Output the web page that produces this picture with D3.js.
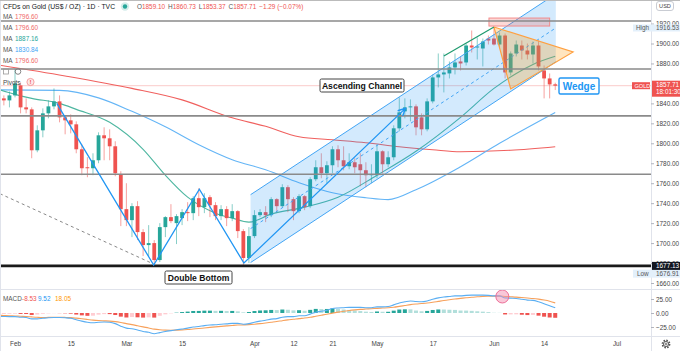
<!DOCTYPE html>
<html>
<head>
<meta charset="utf-8">
<script src="https://cdn.jsdelivr.net/npm/d3@7"></script>
<style>
  html, body { margin: 0; padding: 0; background: #fff; }
  svg { display: block; font-family: "Liberation Sans", Arial, sans-serif; }
</style>
</head>
<body>
<svg id="chart" width="680" height="351"></svg>
<script>
// daily bars from Jan 27 2021 (index -3) to Jun 16 2021 (index 97), [open, high, low, close]
const firstIndex = -3;
const candles = [
  [1851, 1856, 1836, 1844], [1845, 1848, 1838, 1843], [1843, 1852, 1836, 1848],
  [1848, 1875, 1846, 1860], [1858, 1861, 1830, 1836], [1836, 1845, 1830, 1834],
  [1834, 1836, 1785, 1793], [1793, 1818, 1791, 1813], [1813, 1835, 1806, 1830],
  [1830, 1843, 1825, 1837], [1837, 1855, 1834, 1842], [1842, 1848, 1821, 1826],
  [1826, 1828, 1809, 1823], [1823, 1829, 1810, 1819], [1819, 1822, 1790, 1794],
  [1794, 1799, 1768, 1775], [1776, 1786, 1766, 1775], [1775, 1790, 1768, 1783],
  [1783, 1811, 1780, 1808], [1808, 1816, 1783, 1805], [1805, 1814, 1783, 1797],
  [1797, 1802, 1767, 1770], [1769, 1772, 1717, 1734], [1734, 1760, 1717, 1723],
  [1723, 1740, 1706, 1737], [1737, 1742, 1703, 1711], [1711, 1714, 1687, 1698],
  [1698, 1718, 1687, 1700], [1700, 1703, 1676.91, 1683], [1683, 1720, 1681, 1716],
  [1716, 1727, 1706, 1726], [1726, 1739, 1720, 1722], [1720, 1729, 1699, 1727],
  [1725, 1734, 1718, 1731], [1731, 1741, 1722, 1730], [1730, 1747, 1723, 1745],
  [1745, 1755, 1727, 1736], [1736, 1750, 1730, 1745], [1746, 1748, 1726, 1738],
  [1738, 1741, 1723, 1727], [1727, 1738, 1723, 1734], [1734, 1737, 1717, 1725],
  [1725, 1739, 1722, 1732], [1732, 1733, 1705, 1712], [1712, 1714, 1678, 1685],
  [1685, 1716, 1680, 1707], [1707, 1733, 1705, 1728], [1728, 1734, 1726, 1731],
  [1731, 1737, 1721, 1728], [1728, 1746, 1726, 1744], [1744, 1745, 1731, 1737],
  [1737, 1759, 1736, 1756], [1756, 1758, 1731, 1744], [1744, 1746, 1723, 1732],
  [1732, 1749, 1730, 1747], [1747, 1748, 1733, 1736], [1737, 1766, 1735, 1764],
  [1764, 1783, 1762, 1776], [1776, 1790, 1765, 1770], [1770, 1782, 1760, 1778],
  [1778, 1797, 1770, 1794], [1794, 1798, 1776, 1783], [1783, 1797, 1773, 1777],
  [1777, 1790, 1774, 1781], [1781, 1785, 1770, 1776], [1779, 1790, 1757, 1773],
  [1773, 1781, 1756, 1768], [1768, 1779, 1760, 1769], [1768, 1799, 1765, 1792],
  [1792, 1793, 1770, 1779], [1779, 1792, 1776, 1786], [1786, 1818, 1783, 1815],
  [1815, 1846, 1812, 1831], [1832, 1845, 1825, 1836], [1836, 1844, 1822, 1837],
  [1837, 1839, 1808, 1816], [1826, 1830, 1808, 1814], [1814, 1845, 1812, 1842],
  [1842, 1869, 1840, 1866], [1866, 1890, 1856, 1869], [1869, 1890, 1851, 1871],
  [1870, 1882, 1865, 1876], [1876, 1890, 1869, 1881], [1882, 1887, 1873, 1880],
  [1881, 1900, 1878, 1898], [1898, 1913, 1891, 1896], [1896, 1906, 1884, 1897],
  [1895, 1905, 1877, 1902], [1905, 1908, 1899, 1903], [1905, 1916.53, 1898, 1899],
  [1899, 1911, 1896, 1908], [1908, 1910, 1865, 1871], [1871, 1892, 1868, 1890],
  [1890, 1903, 1887, 1899], [1898, 1903, 1884, 1893], [1893, 1900, 1884, 1889],
  [1889, 1902, 1880, 1898], [1898, 1903, 1873, 1877], [1873, 1878, 1845, 1865],
  [1865, 1870, 1845, 1859], [1859.10, 1860.73, 1853.37, 1857.71]
];

// moving averages, [bar index, price]
const maFast = [[-3, 1854], [0, 1849], [3, 1845], [8, 1840], [11, 1834], [17, 1821], [23, 1794],
  [27, 1768], [31, 1746], [36, 1730], [39, 1725], [42, 1721], [46, 1729], [52, 1736], [58, 1746],
  [65, 1768], [72, 1792], [80, 1826], [86, 1855], [90, 1870], [93, 1879], [97, 1887.16]];
const maMid = [[-3, 1853.5], [8, 1853], [15, 1845.5], [21, 1832], [27, 1816.5], [33, 1798.5],
  [39, 1783.5], [45, 1773.5], [51, 1760.5], [57, 1750.5], [63, 1745.5], [67, 1743.5], [72, 1753.5],
  [80, 1776.5], [87, 1800], [97, 1830.84]];
const maSlow = [[-3, 1878.5], [9, 1867.5], [21, 1855], [30, 1843.5], [39, 1825.5], [45, 1817],
  [51, 1806.5], [57, 1803.5], [63, 1800.5], [69, 1796.5], [75, 1793.5], [80, 1791.5], [89, 1793],
  [97, 1796.6]];

// MACD (12,26,9) per bar, same range of bars as candles
const macdLine = [-6, -6.3, -6.5, -6.5, -7.5, -8, -10.5, -10.5, -9.5, -8.5, -8, -8, -8.5, -9.5,
  -12, -14.5, -16.5, -17.5, -16.5, -16, -16.5, -19, -23.5, -27, -28, -30.5, -33, -34.5, -37, -35,
  -33, -31.5, -30, -28.5, -27, -25, -24, -22.5, -21.5, -21, -20, -19.5, -18.5, -18.5, -20, -19,
  -16.5, -14.5, -13, -11, -10, -7.5, -6.5, -6.5, -5, -5, -2, 1.5, 3, 5, 8, 9, 9.5, 10, 10, 10, 9.5,
  9.5, 11, 11, 11.5, 14.5, 18, 20, 21.5, 20.5, 20, 21.5, 24.5, 27, 28.5, 29.5, 30.5, 30.5, 31.5, 32,
  32, 32, 31.5, 30.5, 30.5, 27, 26.5, 26, 24.5, 23, 22.5, 20, 16.5, 13, 9.52];
const signalLine = [-4, -4.5, -5, -5.3, -5.8, -6.2, -7, -7.7, -8.1, -7.8, -7.7, -7.7, -7.9, -8.3,
  -9.2, -10.3, -11.5, -12.7, -13.5, -14, -14.5, -15.4, -17, -19, -20.8, -22.8, -24.8, -26.7, -28.8,
  -30, -30.6, -30.8, -30.6, -30.2, -29.5, -28.6, -27.7, -26.7, -25.7, -24.8, -23.9, -23, -22.2,
  -21.5, -21.2, -20.8, -20, -19, -17.8, -16.5, -15.2, -13.7, -12.3, -11.2, -10, -9, -7.6, -5.8, -4,
  -2.2, -0.2, 1.6, 3.2, 4.5, 5.6, 6.5, 7.1, 7.6, 8.3, 8.8, 9.3, 10.3, 11.8, 13.4, 15, 16.1, 16.9,
  17.8, 19.1, 20.7, 22.3, 23.7, 25, 26.1, 27.2, 28.2, 28.9, 29.6, 29.9, 30.1, 30.2, 29.6, 29, 28.4,
  27.6, 26.7, 25.9, 24.7, 23.1, 21, 18.05];

// horizontal support / resistance levels
const levels = [1922.5, 1874.5, 1827.5, 1769];
const doubleBottomLevel = 1677.13;
const lastPrice = 1857.71;

// drawings, [bar index, price]
const doubleBottomPath = [[7.5, 1840], [24.9, 1678], [33.1, 1754], [41.1, 1680], [70.1, 1835]];
const dashedTrend = [[-2.7, 1749.5], [24.3, 1680.5]];
const channelStart = 42.3, channelEnd = 97.1;
const channelLow = 1680.5, channelHigh = 1748.5, channelSlope = 3.67;
const wedge = [[86, 1916.5], [100.2, 1891.5], [89, 1854.5]];
const risingEdge = [[77, 1887.5], [86, 1916.5]];
const topZone = { from: 85.1, to: 96, low: 1917.5, high: 1925.5 };
const macdMarker = [87.5, 29.5];

// axes (1940 and 1860 sit under the USD and GOLD badges)
const priceTicks = [1920, 1900, 1880, 1840, 1820, 1800, 1780, 1760, 1740, 1720, 1700, 1680, 1660];
const macdTicks = [25, 0, -25];
const tickIdx = [0, 10, 20, 30, 43, 50, 57, 65, 75, 86, 95, 108];
const tickLabels = ["Feb", "15", "Mar", "15", "Apr", "12", "21", "May", "17", "Jun", "14", "Jul"];

const maLegend = [["1796.60", "#f0696a"], ["1796.60", "#f0696a"], ["1887.16", "#26a69a"], ["1830.84", "#42a5f5"], ["1796.60", "#f0696a"]];

const UP = "#26a69a", DOWN = "#ef5350";
const plotRight = 651, mainBottom = 289.5, macdBottom = 336.5;

const svg = d3.select("#chart");
const x = d3.scaleLinear().domain([0, 108]).range([15, 616.5]);
const y = d3.scaleLinear().domain([1660, 1900]).range([283, 43.5]);
const ym = d3.scaleLinear().domain([-25, 25]).range([327, 299]);

const defs = svg.append("defs");
defs.append("clipPath").attr("id", "clipMain").append("rect")
  .attr("x", 0).attr("y", 0).attr("width", plotRight).attr("height", mainBottom);
defs.append("clipPath").attr("id", "clipMacd").append("rect")
  .attr("x", 0).attr("y", mainBottom).attr("width", plotRight).attr("height", macdBottom - mainBottom);
defs.append("marker").attr("id", "arrow").attr("viewBox", "0 0 10 10")
  .attr("refX", 9).attr("refY", 5).attr("markerWidth", 7).attr("markerHeight", 7)
  .attr("orient", "auto-start-reverse")
  .append("path").attr("d", "M1,1 L9,5 L1,9").attr("fill", "none").attr("stroke", "#2196f3").attr("stroke-width", 1.5);

const bars = candles.map((c, k) => ({ i: k + firstIndex, o: c[0], h: c[1], l: c[2], c: c[3] }));

// ---------- main pane ----------
const main = svg.append("g").attr("clip-path", "url(#clipMain)");

// current price line
main.append("line").attr("x1", 0).attr("x2", plotRight)
  .attr("y1", y(lastPrice)).attr("y2", y(lastPrice))
  .attr("stroke", DOWN).attr("stroke-opacity", 0.3).attr("stroke-width", 1);

// moving averages
const maLine = d3.line().x(d => x(d[0])).y(d => y(d[1])).curve(d3.curveMonotoneX);
[[maSlow, "#f0605e"], [maMid, "#64b5f6"], [maFast, "#4db6a0"]].forEach(([s, col]) => {
  main.append("path").attr("d", maLine(s)).attr("fill", "none").attr("stroke", col).attr("stroke-width", 1.1);
});

// candles
const cg = main.append("g");
cg.selectAll("line").data(bars).enter().append("line")
  .attr("x1", d => x(d.i)).attr("x2", d => x(d.i))
  .attr("y1", d => y(d.h)).attr("y2", d => y(d.l))
  .attr("stroke", d => d.c >= d.o ? UP : DOWN).attr("stroke-opacity", 0.55).attr("stroke-width", 1);
cg.selectAll("rect").data(bars).enter().append("rect")
  .attr("x", d => x(d.i) - 1.9).attr("width", 3.8)
  .attr("y", d => y(Math.max(d.o, d.c)))
  .attr("height", d => Math.max(1, Math.abs(y(d.o) - y(d.c))))
  .attr("fill", d => d.c >= d.o ? UP : DOWN);

// channel
const chanY = (base, i) => base + channelSlope * (i - channelStart);
main.append("polygon")
  .attr("points", [[channelStart, channelLow], [channelStart, channelHigh],
    [channelEnd, chanY(channelHigh, channelEnd)], [channelEnd, chanY(channelLow, channelEnd)]]
    .map(p => [x(p[0]), y(p[1])].join(",")).join(" "))
  .attr("fill", "#2196f3").attr("fill-opacity", 0.2);
[[channelLow, null], [channelHigh, null], [(channelLow + channelHigh) / 2, "3,3"]].forEach(([b, dash]) => {
  main.append("line")
    .attr("x1", x(channelStart)).attr("y1", y(b))
    .attr("x2", x(channelEnd)).attr("y2", y(chanY(b, channelEnd)))
    .attr("stroke", "#42a5f5").attr("stroke-width", 1).attr("stroke-dasharray", dash);
});

// wedge
main.append("polygon")
  .attr("points", wedge.map(p => [x(p[0]), y(p[1])].join(",")).join(" "))
  .attr("fill", "#ff9800").attr("fill-opacity", 0.25)
  .attr("stroke", "#ffa040").attr("stroke-width", 1.2);
main.append("line")
  .attr("x1", x(risingEdge[0][0])).attr("y1", y(risingEdge[0][1]))
  .attr("x2", x(risingEdge[1][0])).attr("y2", y(risingEdge[1][1]))
  .attr("stroke", "#1e9a6e").attr("stroke-width", 1.2);

// top zone
main.append("rect")
  .attr("x", x(topZone.from)).attr("width", x(topZone.to) - x(topZone.from))
  .attr("y", y(topZone.high)).attr("height", y(topZone.low) - y(topZone.high))
  .attr("fill", "#f44336").attr("fill-opacity", 0.2).attr("stroke", "#f28b8b").attr("stroke-width", 1);

// horizontal levels
levels.forEach(p => {
  main.append("line").attr("x1", 0).attr("x2", plotRight).attr("y1", y(p)).attr("y2", y(p))
    .attr("stroke", "#8a8a8a").attr("stroke-width", 1.6);
});
main.append("line").attr("x1", 0).attr("x2", plotRight)
  .attr("y1", y(doubleBottomLevel)).attr("y2", y(doubleBottomLevel))
  .attr("stroke", "#1a1a1a").attr("stroke-width", 2.6);

// dashed trend line
main.append("line")
  .attr("x1", x(dashedTrend[0][0])).attr("y1", y(dashedTrend[0][1]))
  .attr("x2", x(dashedTrend[1][0])).attr("y2", y(dashedTrend[1][1]))
  .attr("stroke", "#888").attr("stroke-width", 1).attr("stroke-dasharray", "3,3");

// double bottom zigzag
main.append("path")
  .attr("d", d3.line().x(d => x(d[0])).y(d => y(d[1]))(doubleBottomPath))
  .attr("fill", "none").attr("stroke", "#2196f3").attr("stroke-width", 1.3)
  .attr("marker-end", "url(#arrow)");

// text labels
function boxLabel(cx, cy, w, h, text, opts) {
  const g = svg.append("g");
  g.append("rect").attr("x", cx - w / 2).attr("y", cy - h / 2).attr("width", w).attr("height", h)
    .attr("rx", 1.5).attr("fill", "#fff").attr("stroke", opts.stroke).attr("stroke-width", opts.sw);
  g.append("text").attr("x", cx).attr("y", cy + opts.size * 0.36).attr("text-anchor", "middle")
    .attr("font-size", opts.size).attr("font-weight", "bold").attr("fill", opts.color).text(text);
}
boxLabel(362, 85.5, 84, 13, "Ascending Channel", { stroke: "#444", sw: 1, size: 8.6, color: "#111" });
boxLabel(198.5, 277.5, 67, 13, "Double Bottom", { stroke: "#444", sw: 1, size: 8.6, color: "#111" });
boxLabel(579, 86, 40, 16, "Wedge", { stroke: "#2196f3", sw: 1.4, size: 10, color: "#2196f3" });

// ---------- MACD pane ----------
const macd = svg.append("g").attr("clip-path", "url(#clipMacd)");
const hist = bars.map((b, k) => ({ i: b.i, v: macdLine[k] - signalLine[k] }));
hist.forEach((h, k) => {
  const prev = k > 0 ? hist[k - 1].v : h.v;
  if (h.v >= 0) h.col = h.v >= prev ? "#26a69a" : "#b2dfdb";
  else h.col = h.v <= prev ? "#ef5350" : "#ffcdd2";
});
macd.selectAll("rect").data(hist).enter().append("rect")
  .attr("x", d => x(d.i) - 2).attr("width", 4)
  .attr("y", d => Math.min(ym(0), ym(d.v)))
  .attr("height", d => Math.abs(ym(d.v) - ym(0)))
  .attr("fill", d => d.col);
const mLine = d3.line().x((d, k) => x(k + firstIndex)).y(d => ym(d)).curve(d3.curveMonotoneX);
macd.append("path").attr("d", mLine(signalLine)).attr("fill", "none").attr("stroke", "#f7a15c").attr("stroke-width", 1.1);
macd.append("path").attr("d", mLine(macdLine)).attr("fill", "none").attr("stroke", "#5aaef2").attr("stroke-width", 1.1);
macd.append("circle").attr("cx", x(macdMarker[0])).attr("cy", ym(macdMarker[1])).attr("r", 6.5)
  .attr("fill", "#f48fb1").attr("fill-opacity", 0.5).attr("stroke", "#ec6f98").attr("stroke-width", 1);

// ---------- frame ----------
const frame = svg.append("g").attr("stroke", "#e0e3eb").attr("stroke-width", 1);
frame.append("line").attr("x1", plotRight + 0.5).attr("x2", plotRight + 0.5).attr("y1", 0).attr("y2", 351);
frame.append("line").attr("x1", 0).attr("x2", 680).attr("y1", mainBottom).attr("y2", mainBottom);
frame.append("line").attr("x1", 0).attr("x2", 680).attr("y1", macdBottom).attr("y2", macdBottom);
frame.append("line").attr("x1", 0.5).attr("x2", 0.5).attr("y1", 0).attr("y2", 351);
svg.append("line").attr("x1", 0).attr("x2", 680).attr("y1", 0.5).attr("y2", 0.5).attr("stroke", "#bbb");

// ---------- axes ----------
function styleAxis(g) {
  g.select(".domain").remove();
  g.selectAll("line").attr("stroke", "#b2b5be");
  g.selectAll("text").attr("fill", "#444").attr("font-size", 6.4).attr("font-family", "Liberation Sans, Arial, sans-serif");
}
svg.append("g").attr("transform", `translate(${plotRight},0)`)
  .call(d3.axisRight(y).tickValues(priceTicks).tickFormat(d3.format(".2f")).tickSize(3).tickPadding(2))
  .call(styleAxis);
svg.append("g").attr("transform", `translate(${plotRight},0)`)
  .call(d3.axisRight(ym).tickValues(macdTicks).tickFormat(d3.format(".2f")).tickSize(3).tickPadding(2))
  .call(styleAxis);
svg.append("g").attr("transform", `translate(0,${macdBottom})`)
  .call(d3.axisBottom(x).tickValues(tickIdx).tickFormat((d, k) => tickLabels[k]).tickSize(0).tickPadding(5))
  .call(styleAxis);

// price axis badges
function badge(yc, h, x0, w, fill, lines, color) {
  svg.append("rect").attr("x", x0).attr("y", yc - h / 2).attr("width", w).attr("height", h).attr("fill", fill);
  lines.forEach((t, k) => {
    svg.append("text").attr("x", t.x).attr("y", yc + t.dy).attr("font-size", t.size || 6.4)
      .attr("fill", color).text(t.text);
  });
}
badge(y(1916.53) + 1, 7, 633, 47, "#e3f0fb", [{ x: 636, dy: 2.2, text: "High" }, { x: 656, dy: 2.2, text: "1916.53" }], "#555");
badge(y(1676.91) + 7.5, 8, 633, 47, "#e3f0fb", [{ x: 637, dy: 2.2, text: "Low" }, { x: 656, dy: 2.2, text: "1676.91" }], "#555");
badge(y(doubleBottomLevel), 8, 652, 28, "#131722", [{ x: 656, dy: 2.3, text: "1677.13" }], "#fff");
badge(y(lastPrice) + 3, 16, 652, 28, DOWN, [{ x: 656, dy: -1.8, text: "1857.71" }, { x: 656, dy: 5.6, text: "18:01:30" }], "#fff");
badge(y(lastPrice), 7, 632, 18, DOWN, [{ x: 634.5, dy: 2, text: "GOLD", size: 5.6 }], "#fff");

svg.append("rect").attr("x", 656.5).attr("y", 1.5).attr("width", 17).attr("height", 9).attr("rx", 2.5)
  .attr("fill", "#fff").attr("stroke", "#c9ccd3");
svg.append("text").attr("x", 665).attr("y", 8.3).attr("text-anchor", "middle").attr("font-size", 5.6).attr("fill", "#444").text("USD");

// gear
const gear = svg.append("g").attr("transform", "translate(666,344)").attr("fill", "none").attr("stroke", "#555");
gear.append("circle").attr("r", 3.6).attr("stroke-width", 1.6).attr("stroke-dasharray", "1.6,1.2");
gear.append("circle").attr("r", 2.6).attr("stroke-width", 0.9);
gear.append("circle").attr("r", 1).attr("stroke-width", 0.8);

// ---------- legend ----------
const lg = svg.append("g").attr("font-size", 6.8);
lg.append("text").attr("x", 3).attr("y", 9).attr("fill", "#131722").text("CFDs on Gold (US$ / OZ) · 1D · TVC");
lg.append("circle").attr("cx", 125).attr("cy", 6.5).attr("r", 4.2).attr("fill", "#26a69a").attr("fill-opacity", 0.2);
lg.append("circle").attr("cx", 125).attr("cy", 6.5).attr("r", 2.2).attr("fill", "#26a69a");
const ohlc = lg.append("text").attr("x", 137).attr("y", 9).attr("font-size", 6.4);
[["O", "1859.10"], ["H", "1860.73"], ["L", "1853.37"], ["C", "1857.71"]].forEach(([k, v], n) => {
  ohlc.append("tspan").attr("fill", "#555").attr("dx", n ? 3 : 0).text(k);
  ohlc.append("tspan").attr("fill", DOWN).text(v);
});
ohlc.append("tspan").attr("fill", DOWN).attr("dx", 3).text("−1.29 (−0.07%)");
maLegend.forEach(([v, col], k) => {
  const t = lg.append("text").attr("x", 3).attr("y", 19 + k * 11).attr("font-size", 6.4);
  t.append("tspan").attr("fill", "#555").text("MA");
  t.append("tspan").attr("x", 15).attr("fill", col).text(v);
});
lg.append("rect").attr("x", 3.5).attr("y", 69).attr("width", 5).attr("height", 5).attr("fill", "none").attr("stroke", "#999").attr("stroke-width", 0.8);
lg.append("circle").attr("cx", 18).attr("cy", 71.5).attr("r", 2.8).attr("fill", "none").attr("stroke", "#777").attr("stroke-width", 0.9);
lg.append("text").attr("x", 3).attr("y", 84.5).attr("font-size", 6.4).attr("fill", "#444").text("Pivots");
lg.append("circle").attr("cx", 30.5).attr("cy", 82).attr("r", 3.6).attr("fill", "#fde8e8").attr("stroke", "#f28b8b").attr("stroke-width", 0.8);
lg.append("text").attr("x", 30.5).attr("y", 84.3).attr("text-anchor", "middle").attr("font-size", 6).attr("font-weight", "bold").attr("fill", DOWN).text("!");

const ml = svg.append("text").attr("x", 3).attr("y", 300.5).attr("font-size", 6.4);
ml.append("tspan").attr("fill", "#555").text("MACD");
ml.append("tspan").attr("x", 22).attr("fill", DOWN).text("-8.53");
ml.append("tspan").attr("x", 38).attr("fill", "#2196f3").text("9.52");
ml.append("tspan").attr("x", 55).attr("fill", "#ff9800").text("18.05");
</script>
</body>
</html>
